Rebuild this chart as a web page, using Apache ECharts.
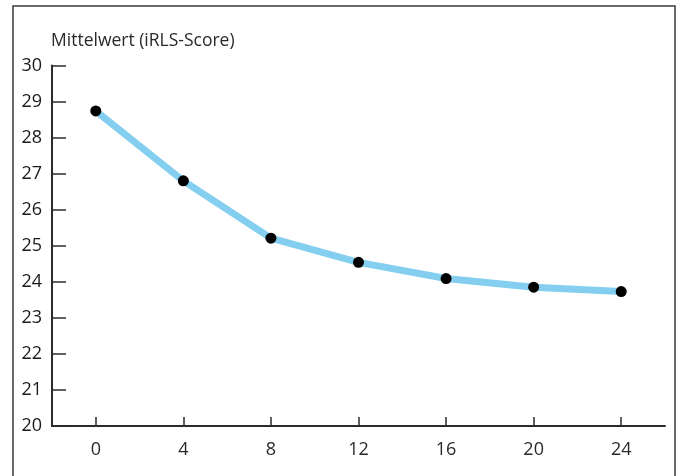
<!DOCTYPE html>
<html>
<head>
<meta charset="utf-8">
<script src="https://cdn.jsdelivr.net/npm/echarts@6/dist/echarts.min.js"></script>
<style>
html,body{margin:0;padding:0;background:#fff;}
#chart{width:681px;height:476px;}
</style>
</head>
<body>
<div id="chart"></div>
<script>
const weeks = ['0', '4', '8', '12', '16', '20', '24'];
const meanScores = [28.74, 26.80, 25.21, 24.54, 24.09, 23.85, 23.73];
const yTitle = 'Mittelwert (iRLS-Score)';

const chart = echarts.init(document.getElementById('chart'), null, {renderer: 'canvas'});
const font = 'Open Sans';
chart.setOption({
  animation: false,
  backgroundColor: '#ffffff',
  graphic: [{
    type: 'rect',
    shape: {x: 13, y: 6, width: 662, height: 480},
    style: {fill: 'none', stroke: '#3a3a3a', lineWidth: 1.5},
    silent: true
  }, {
    type: 'text',
    left: 51, top: 32,
    style: {text: yTitle, font: '17.5px "Open Sans"', fill: '#2a2a2a'}
  }],
  grid: {left: 52, right: 16, top: 65.5, bottom: 50, containLabel: false},
  xAxis: {
    type: 'category',
    data: weeks,
    boundaryGap: true,
    axisLine: {lineStyle: {color: '#2b2b2b', width: 2}},
    axisTick: {show: true, alignWithLabel: true, inside: true, length: 9, lineStyle: {color: '#2b2b2b', width: 1.5}},
    axisLabel: {color: '#2a2a2a', fontFamily: font, fontSize: 18, margin: 15}
  },
  yAxis: {
    type: 'value',
    min: 20, max: 30, interval: 1,
    axisLine: {show: true, lineStyle: {color: '#2b2b2b', width: 2}},
    axisTick: {show: true, inside: true, length: 14, lineStyle: {color: '#2b2b2b', width: 1.5}},
    axisLabel: {color: '#1a1a1a', fontFamily: font, fontSize: 18, margin: 10},
    splitLine: {show: false}
  },
  series: [{
    type: 'line',
    data: meanScores,
    smooth: false,
    symbol: 'circle',
    symbolSize: 11,
    lineStyle: {color: '#84cff0', width: 7, cap: 'round', join: 'round'},
    itemStyle: {color: '#000'}
  }]
});
</script>
</body>
</html>
